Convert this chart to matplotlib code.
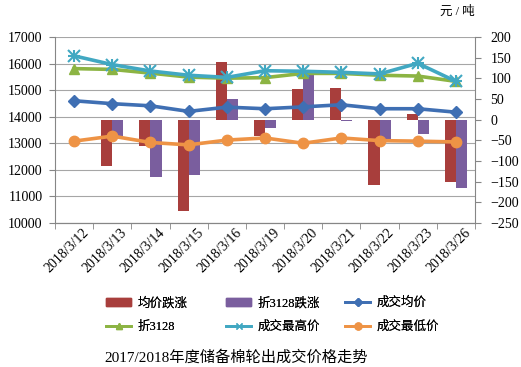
import numpy as np
import matplotlib
matplotlib.use("Agg")
import matplotlib.pyplot as plt
import matplotlib.transforms as mtrans
from matplotlib.lines import Line2D
from matplotlib.patches import Patch

plt.rcParams['font.family'] = ['Liberation Serif', 'Noto Sans CJK SC']
plt.rcParams['font.size'] = 9

dates = ['2018/3/12', '2018/3/13', '2018/3/14', '2018/3/15', '2018/3/16', '2018/3/19',
         '2018/3/20', '2018/3/21', '2018/3/22', '2018/3/23', '2018/3/26']
# right axis (yuan/ton change)
avg_change = [0, -113, -64, -221, 140, -40, 74, 76, -159, 14, -151]
z3128_change = [0, -40, -139, -134, 51, -20, 109, -3, -47, -34, -166]
# left axis (prices)
avg_price = [14600, 14490, 14410, 14200, 14360, 14300, 14370, 14450, 14300, 14300, 14170]
z3128 = [15810, 15780, 15640, 15490, 15450, 15470, 15630, 15630, 15560, 15530, 15330]
max_price = [16290, 15960, 15720, 15560, 15480, 15730, 15710, 15670, 15610, 16010, 15330]
min_price = [13080, 13270, 13030, 12940, 13120, 13200, 13000, 13200, 13100, 13080, 13050]

left_ticks = np.arange(10000, 17001, 1000)
right_ticks = np.arange(-250, 201, 50)

c_red = '#A83E3C'
c_purple = '#7A5E9E'
c_blue = '#3F6FB3'
c_green = '#8CB443'
c_cyan = '#41A8C2'
c_orange = '#EE9345'
c_axis = '#868686'

fig = plt.figure(figsize=(5.21, 3.67), dpi=100)
ax2 = fig.add_axes([0.1056, 0.3924, 0.8061, 0.5068])
ax = ax2.twinx()

x = np.arange(len(dates))
w = 0.29
ax2.bar(x - w / 2, avg_change, w, color=c_red, zorder=3)
ax2.bar(x + w / 2, z3128_change, w, color=c_purple, zorder=3)
ax2.set_ylim(-250, 200)
ax2.yaxis.tick_right()
ax2.set_yticks(right_ticks)
# horizontal grid follows the left (price) scale, drawn behind the bars
grid_pos = -250 + (left_ticks - 10000) * 450 / 7000
for g in grid_pos:
    ax2.axhline(g, color='#A6A6A6', lw=0.8, zorder=1)

ax.yaxis.tick_left()
ax.set_zorder(ax2.get_zorder() + 1)
ax.patch.set_visible(False)
lw = 2.6
ax.plot(x, avg_price, color=c_blue, lw=lw, marker='D', ms=6)
ax.plot(x, z3128, color=c_green, lw=lw, marker='^', ms=7)
ax.plot(x, max_price, color=c_cyan, lw=lw, marker='x', ms=8, mew=1.5)
ax.plot(x, max_price, color=c_cyan, lw=0, marker='+', ms=8, mew=1.5)
ax.plot(x, min_price, color=c_orange, lw=lw, marker='o', ms=7.5)
ax.set_ylim(10000, 17000)
ax.set_yticks(left_ticks)
ax.set_xlim(-0.5, len(dates) - 0.5)

for a in (ax, ax2):
    a.spines['top'].set_visible(False)
    for s in a.spines.values():
        s.set_color(c_axis)
ax.tick_params(axis='y', length=4, color=c_axis, pad=5, labelsize=10)
ax2.tick_params(axis='y', length=4, color=c_axis, pad=7, labelsize=10)
ax2.spines['left'].set_visible(False)
ax.spines['right'].set_visible(False)

ax2.set_xticks(x)
ax2.set_xticklabels(dates, rotation=45, ha='right', rotation_mode='anchor', fontsize=10)
ax2.set_xticks(np.arange(len(dates) + 1) - 0.5, minor=True)
ax2.tick_params(axis='x', which='major', length=0, pad=5)
ax2.tick_params(axis='x', which='minor', length=4, color=c_axis)
shift = mtrans.ScaledTranslation(0.08, 0.04, fig.dpi_scale_trans)
for lab in ax2.get_xticklabels():
    lab.set_transform(lab.get_transform() + shift)

fig.text(0.8445, 0.967, '元 / 吨', fontsize=9, va='center')

handles = [Patch(color=c_red), Patch(color=c_purple),
           Line2D([], [], color=c_blue, lw=2, marker='D', ms=4),
           Line2D([], [], color=c_green, lw=2, marker='^', ms=5),
           Line2D([], [], color=c_cyan, lw=2, marker='x', ms=5),
           Line2D([], [], color=c_orange, lw=2, marker='o', ms=5)]
labels = ['均价跌涨', '折3128跌涨', '成交均价', '折3128', '成交最高价', '成交最低价']
# one legend per column, placed like the fixed-width columns of the original
col_x = [106, 226, 345]
for i, cx in enumerate(col_x):
    leg = fig.legend([handles[i], handles[i + 3]], [labels[i], labels[i + 3]],
                     loc='center left', bbox_to_anchor=(cx / 521, 1 - 315 / 367),
                     frameon=False, fontsize=9, borderpad=0, borderaxespad=0,
                     handlelength=2.0, handleheight=0.55, labelspacing=0.95,
                     handletextpad=0.5)
    fig.add_artist(leg)

fig.text(0.453, 0.027, '2017/2018年度储备棉轮出成交价格走势', ha='center', va='center',
         fontsize=11)

fig.savefig('out.png', dpi=100)
